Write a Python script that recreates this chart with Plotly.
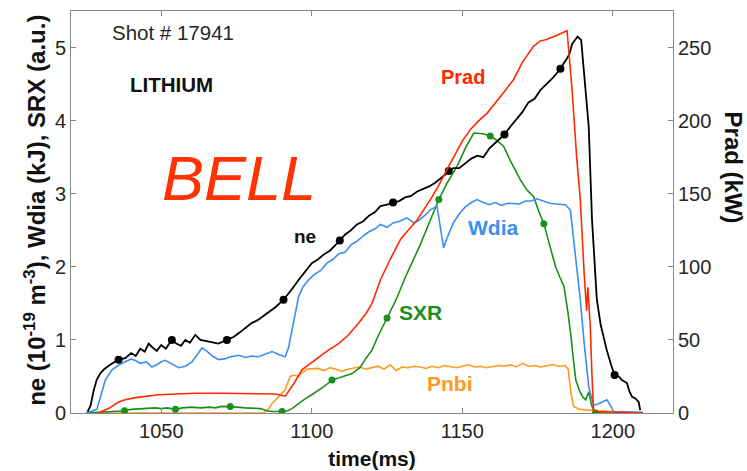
import plotly.graph_objects as go

# ---------------- data ----------------
ne_t = [1025.5, 1026.5, 1027.5, 1028.5, 1029.7, 1031, 1033, 1035.8, 1038, 1040, 1041.5, 1043, 1044.5,
        1045.8, 1047, 1048.5, 1050, 1051.5, 1053.5, 1055, 1056.5, 1058, 1059.5, 1061.3, 1063, 1065.7,
        1067.5, 1069, 1071.8, 1074, 1076, 1078, 1080, 1082, 1084, 1086, 1088, 1090.6, 1092, 1093.5,
        1095.6, 1098, 1100, 1102, 1104, 1106, 1108, 1109.3, 1111, 1113, 1115, 1117, 1119, 1121, 1122.8,
        1125, 1127, 1129, 1131, 1133, 1135, 1137, 1139, 1141, 1143, 1145.5, 1147, 1149, 1151, 1153,
        1155, 1157, 1159, 1161, 1164, 1166, 1168, 1170, 1172, 1174, 1176, 1178, 1180, 1182.6, 1184,
        1185.5, 1186.5, 1188.3, 1189.5, 1190.5, 1192, 1193.1, 1194.7, 1196, 1198, 1199.5, 1200.6, 1202,
        1203, 1204.7, 1205.5, 1206.4, 1207.5, 1208.6, 1209.1]
ne_v = [0.02, 0.10, 0.30, 0.45, 0.54, 0.60, 0.66, 0.73, 0.75, 0.82, 0.78, 0.88, 0.84,
        0.95, 0.90, 0.85, 0.93, 0.88, 1.00, 0.95, 0.92, 1.00, 0.96, 1.07, 1.00, 0.98,
        0.96, 0.95, 1.00, 1.04, 1.10, 1.16, 1.23, 1.27, 1.33, 1.38, 1.45, 1.55, 1.62, 1.70,
        1.82, 1.95, 2.05, 2.10, 2.17, 2.22, 2.30, 2.36, 2.44, 2.50, 2.58, 2.62, 2.70, 2.75, 2.83,
        2.85, 2.88, 2.90, 2.95, 2.97, 3.03, 3.06, 3.10, 3.15, 3.22, 3.31, 3.35, 3.35, 3.42, 3.48,
        3.52, 3.50, 3.62, 3.70, 3.81, 3.92, 4.02, 4.12, 4.25, 4.30, 4.42, 4.50, 4.58, 4.71, 4.80,
        4.90, 5.05, 5.15, 5.10, 4.60, 3.92, 2.64, 1.55, 1.20, 0.86, 0.65, 0.52, 0.50,
        0.45, 0.41, 0.30, 0.22, 0.20, 0.15, 0.04]
ne_mk_t = [1035.8, 1053.5, 1071.8, 1090.6, 1109.3, 1127, 1145.5, 1164, 1182.6, 1200.6]
ne_mk_v = [0.73, 1.00, 1.00, 1.55, 2.36, 2.88, 3.31, 3.81, 4.71, 0.52]

wdia_t = [1025, 1028.6, 1030, 1031.4, 1033.6, 1036, 1038, 1040, 1041.4, 1043, 1045, 1046.9, 1048.5,
          1050, 1051.3, 1053, 1055.8, 1058, 1060.2, 1062, 1063.5, 1065, 1067, 1069, 1071, 1073,
          1075.7, 1078, 1080, 1082.3, 1084.5, 1086.8, 1089, 1091.2, 1092.3, 1093.4, 1094.5, 1095.6,
          1097, 1098.9, 1101, 1103, 1105, 1107, 1109, 1111, 1113, 1115, 1117, 1119, 1121, 1122.8,
          1125, 1127, 1129, 1131.6, 1134, 1136, 1138, 1139.4, 1141.6, 1142.6, 1143.8, 1145, 1147,
          1149.3, 1151, 1153, 1154.9, 1157, 1159, 1161, 1163, 1165, 1167, 1169, 1171, 1173, 1174.8,
          1177, 1179, 1181, 1184.2, 1185.9, 1187.5, 1189.2, 1190.5, 1192, 1193.6, 1195, 1196.5,
          1198, 1199, 1200.3, 1210]
wdia_v = [0.00, 0.05, 0.25, 0.45, 0.59, 0.66, 0.70, 0.74, 0.72, 0.68, 0.70, 0.63, 0.66,
          0.70, 0.72, 0.68, 0.62, 0.64, 0.70, 0.80, 0.89, 0.85, 0.78, 0.73, 0.74, 0.77,
          0.79, 0.76, 0.78, 0.77, 0.80, 0.84, 0.80, 0.77, 0.90, 1.14, 1.35, 1.59,
          1.72, 1.82, 1.90, 1.95, 2.05, 2.10, 2.18, 2.20, 2.30, 2.35, 2.42, 2.48, 2.52, 2.58,
          2.54, 2.60, 2.62, 2.67, 2.60, 2.65, 2.72, 2.78, 2.83, 2.55, 2.26, 2.40, 2.60,
          2.74, 2.82, 2.88, 2.92, 2.88, 2.85, 2.88, 2.84, 2.87, 2.87, 2.86, 2.90, 2.90, 2.93,
          2.90, 2.87, 2.86, 2.85, 2.78, 2.20, 1.55, 0.95, 0.36, 0.11, 0.12, 0.15,
          0.18, 0.12, 0.02, 0.01]

prad_t = [1029, 1032.5, 1035.8, 1038, 1041.4, 1045, 1049.1, 1055, 1061.3, 1070, 1082.3, 1088, 1091.2,
          1094, 1096.7, 1099.5, 1102.3, 1105.5, 1108.9, 1112, 1115.6, 1118, 1120, 1122.8, 1126,
          1129.4, 1132, 1135, 1139.4, 1142, 1144.9, 1148, 1150, 1152.7, 1155.5, 1158.2, 1161, 1164,
          1167, 1170, 1173.7, 1175.9, 1178, 1180, 1182, 1184.8, 1186.4, 1188, 1189.2, 1190.5,
          1190.9, 1191.3, 1191.7, 1192.1, 1192.5, 1193, 1193.6, 1195, 1210]
prad_kw = [0, 3, 7.5, 9, 10.5, 11.5, 12.5, 13, 13.5, 13.5, 13.5, 13, 11.5,
           20, 29.5, 34, 38.5, 43, 47.5, 53, 61.5, 68, 75, 91, 105,
           118.5, 125, 132, 146, 155, 166.5, 178, 186, 194, 200, 205, 212, 220,
           228, 240, 251, 254.5, 255.5, 257, 259, 261.5, 223, 175, 146, 95,
           82, 70, 86, 72, 60, 30, 2, 1, 0]

sxr_t = [1025, 1030, 1034, 1037.8, 1040, 1045, 1048, 1050, 1052, 1054.7, 1057, 1060, 1063, 1066, 1068,
         1070, 1072.9, 1075, 1078, 1081, 1083, 1085, 1087, 1090.1, 1092, 1093.4, 1096, 1098, 1100,
         1102, 1104, 1106.7, 1109, 1111, 1113.4, 1116, 1118, 1120, 1122, 1125, 1128, 1131, 1133.9,
         1136, 1138, 1140, 1142.2, 1145, 1148.2, 1151, 1153.8, 1157, 1159.3, 1161.5, 1163.7, 1166,
         1169.3, 1171.5, 1173.7, 1175.5, 1177.1, 1179, 1181, 1182.5, 1183.8, 1185, 1186, 1187,
         1187.7, 1189, 1190, 1191, 1192, 1193, 1194.2, 1200]
sxr_v = [0.00, 0.01, 0.02, 0.03, 0.05, 0.06, 0.07, 0.06, 0.07, 0.05, 0.07, 0.08, 0.07, 0.08, 0.07,
         0.09, 0.09, 0.08, 0.07, 0.07, 0.06, 0.03, 0.02, 0.02, 0.03, 0.06, 0.14, 0.20, 0.25,
         0.30, 0.36, 0.45, 0.48, 0.50, 0.54, 0.62, 0.75, 0.86, 1.05, 1.30, 1.55, 1.85, 2.10,
         2.30, 2.50, 2.70, 2.92, 3.15, 3.37, 3.62, 3.83, 3.82, 3.79, 3.73, 3.65, 3.45,
         3.19, 3.05, 2.96, 2.75, 2.59, 2.30, 2.00, 1.85, 1.73, 1.40, 1.09, 0.70,
         0.45, 0.30, 0.22, 0.18, 0.29, 0.10, 0.00, 0.00]
sxr_mk_t = [1037.8, 1054.7, 1072.9, 1090.1, 1106.7, 1125, 1142.2, 1159.3, 1177.1, 1194.2]
sxr_mk_v = [0.03, 0.05, 0.09, 0.02, 0.45, 1.30, 2.92, 3.79, 2.59, 0.00]

pnbi_t = [1025, 1084, 1085.5, 1086.8, 1088.5, 1091.2, 1092.8, 1094, 1095.5, 1097, 1098.5,
          1100, 1102, 1104, 1106, 1108, 1110, 1112, 1114, 1116, 1118, 1120, 1122, 1124, 1126,
          1128, 1130, 1132, 1134, 1136, 1138, 1140, 1142, 1144, 1146, 1148, 1150, 1152, 1154,
          1156, 1158, 1160, 1162, 1164, 1166, 1168, 1170, 1172, 1174, 1176, 1178, 1180, 1182,
          1184.2, 1185.2, 1186, 1187, 1189, 1195, 1200, 1201]
pnbi_v = [0.00, 0.00, 0.05, 0.13, 0.20, 0.32, 0.50, 0.52, 0.50, 0.56, 0.60,
          0.60, 0.61, 0.58, 0.62, 0.60, 0.57, 0.60, 0.61, 0.63, 0.60, 0.62, 0.64, 0.60, 0.66,
          0.58, 0.63, 0.62, 0.64, 0.63, 0.61, 0.64, 0.62, 0.65, 0.63, 0.62, 0.64, 0.66, 0.63,
          0.64, 0.62, 0.63, 0.65, 0.64, 0.66, 0.63, 0.68, 0.64, 0.65, 0.63, 0.64, 0.66, 0.64,
          0.65, 0.60, 0.30, 0.09, 0.05, 0.03, 0.02, 0.00]

x_ticks = [1050, 1100, 1150, 1200]
yl_ticks = [0, 1, 2, 3, 4, 5]
yr_ticks = [0, 50, 100, 150, 200, 250]

# ---------------- style ----------------
C_NE, C_PRAD, C_WDIA, C_SXR, C_PNBI = "#000000", "#ff2a00", "#3a8ff5", "#1a8f1a", "#ff9a1f"
FONT = "Liberation Sans, Arial, sans-serif"
AX = "#888888"
TXT = "#262626"
TICK_SIZE = 20

fig = go.Figure()
fig.add_trace(go.Scatter(x=pnbi_t, y=pnbi_v, mode="lines", line=dict(color=C_PNBI, width=1.6)))
fig.add_trace(go.Scatter(x=sxr_t, y=sxr_v, mode="lines", line=dict(color=C_SXR, width=1.6)))
fig.add_trace(go.Scatter(x=sxr_mk_t, y=sxr_mk_v, mode="markers", marker=dict(color=C_SXR, size=7)))
fig.add_trace(go.Scatter(x=wdia_t, y=wdia_v, mode="lines", line=dict(color=C_WDIA, width=1.6)))
fig.add_trace(go.Scatter(x=prad_t, y=prad_kw, mode="lines", yaxis="y2", line=dict(color=C_PRAD, width=1.6)))
fig.add_trace(go.Scatter(x=ne_t, y=ne_v, mode="lines", line=dict(color=C_NE, width=1.8)))
fig.add_trace(go.Scatter(x=ne_mk_t, y=ne_mk_v, mode="markers", marker=dict(color=C_NE, size=8)))

ann = []
def lab(x, y, text, color, size, bold=True, italic=False, xanchor="center"):
    t = text
    if bold:
        t = "<b>" + t + "</b>"
    if italic:
        t = "<i>" + t + "</i>"
    ann.append(dict(x=x, y=y, xref="x", yref="y", text=t, showarrow=False, xanchor=xanchor,
                    yanchor="middle", font=dict(family=FONT, size=size, color=color)))

lab(1033, 5.2, "Shot # 17941", TXT, 20.5, bold=False, xanchor="left")
lab(1038.9, 4.49, "LITHIUM", "#111111", 20.5, xanchor="left")
lab(1049.5, 3.21, "BELL", "#ff3300", 63, bold=False, italic=True, xanchor="left")
lab(1097.7, 2.42, "ne", "#111111", 19)
lab(1150.2, 4.6, "Prad", C_PRAD, 20)
lab(1160.2, 2.54, "Wdia", C_WDIA, 21)
lab(1136, 1.37, "SXR", C_SXR, 21)
lab(1145.9, 0.41, "Pnbi", C_PNBI, 21)

ann.append(dict(x=-0.06, y=0.505, xref="paper", yref="paper", showarrow=False, textangle=-90,
                text="<b>ne (10<sup>-19</sup> m<sup>-3</sup>), Wdia (kJ), SRX (a.u.)</b>",
                font=dict(family=FONT, size=24, color="#111111"), xanchor="center", yanchor="middle"))
ann.append(dict(x=1.10, y=0.61, xref="paper", yref="paper", showarrow=False, textangle=90,
                text="<b>Prad (kW)</b>", font=dict(family=FONT, size=24, color="#111111"),
                xanchor="center", yanchor="middle"))

fig.update_layout(
    width=747, height=471,
    margin=dict(l=71, r=74, t=11, b=58),
    paper_bgcolor="white", plot_bgcolor="white",
    showlegend=False,
    font=dict(family=FONT, size=TICK_SIZE, color=TXT),
    annotations=ann,
    xaxis=dict(range=[1020, 1220], tickvals=x_ticks, ticks="inside", ticklen=5, tickcolor=AX,
               showline=True, linecolor=AX, linewidth=1, mirror="ticks", showgrid=False, zeroline=False,
               automargin=False,
               title=dict(text="<b>time(ms)</b>", font=dict(size=21, color="#111111"), standoff=10),
               tickfont=dict(size=TICK_SIZE, color=TXT)),
    yaxis=dict(range=[0, 5.5], tickvals=yl_ticks, ticks="inside", ticklen=5, tickcolor=AX,
               showline=True, linecolor=AX, linewidth=1, showgrid=False, zeroline=False,
               automargin=False, tickfont=dict(size=TICK_SIZE, color=TXT)),
    yaxis2=dict(range=[0, 275], tickvals=yr_ticks, ticks="inside", ticklen=5, tickcolor=AX,
                overlaying="y", side="right", showline=True, linecolor=AX, linewidth=1,
                showgrid=False, zeroline=False, automargin=False,
                tickfont=dict(size=TICK_SIZE, color=TXT)),
)

fig.write_html("out.html")
